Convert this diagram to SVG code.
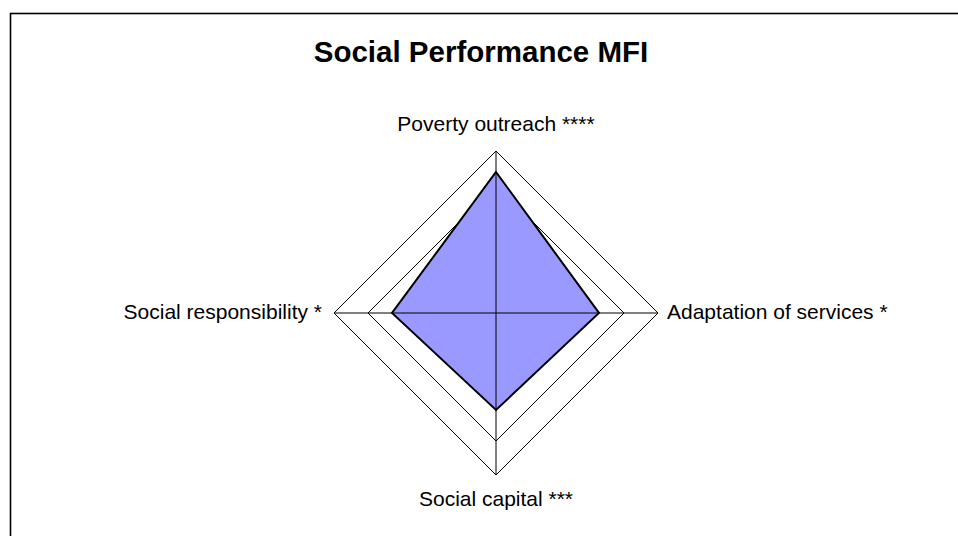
<svg xmlns="http://www.w3.org/2000/svg" width="958" height="536" viewBox="0 0 958 536">
<style>
.lbl{font-family:"Liberation Sans",Arial,sans-serif;font-size:21px;fill:#000}
.title{font-family:"Liberation Sans",Arial,sans-serif;font-size:29.5px;font-weight:bold;fill:#000}
.grid{fill:none;stroke:#000;stroke-width:1}
</style>
<rect x="0" y="0" width="958" height="536" fill="#fff"/>
<rect x="10.5" y="13.5" width="1000" height="600" fill="#fff" stroke="#000" stroke-width="1.6"/>
<text id="title" class="title" x="481" y="62" text-anchor="middle">Social Performance MFI</text>
<g id="grid">
<polygon class="grid" points="496,151 658,313 496,475 334,313"/>
<polygon class="grid" points="496,185 624,313 496,441 368,313"/>
</g>
<g id="data">
<polygon points="496,172 599,313 496,410 392,313" fill="#9999FF" stroke="#000" stroke-width="2" stroke-linejoin="miter"/>
</g>
<g id="axes">
<line class="grid" x1="496" y1="151" x2="496" y2="475"/>
<line class="grid" x1="334" y1="313" x2="658" y2="313"/>
</g>
<g id="labels">
<text class="lbl" x="496" y="131" text-anchor="middle">Poverty outreach ****</text>
<text class="lbl" x="322" y="319" text-anchor="end">Social responsibility *</text>
<text class="lbl" x="667" y="319">Adaptation of services *</text>
<text class="lbl" x="496" y="506" text-anchor="middle">Social capital ***</text>
</g>
</svg>
